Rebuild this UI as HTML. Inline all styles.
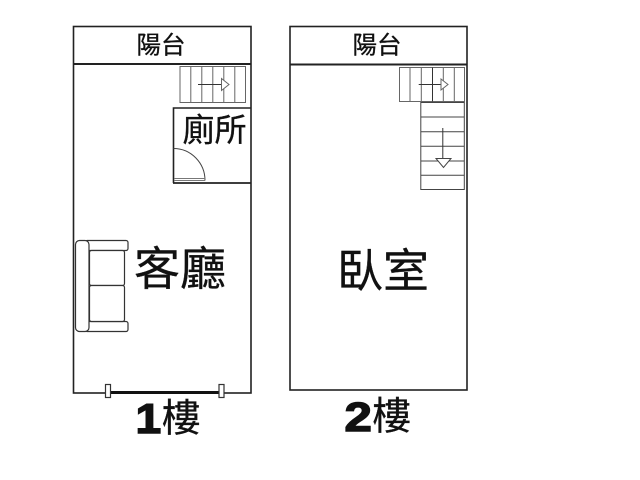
<!DOCTYPE html>
<html><head><meta charset="utf-8">
<style>html,body{margin:0;padding:0;background:#fff;width:640px;height:480px;overflow:hidden}svg{display:block}
text{font-family:"Liberation Sans","Noto Sans CJK TC",sans-serif;fill:#111;stroke:#111;stroke-width:.3}</style></head>
<body>
<svg width="640" height="480" viewBox="0 0 640 480" xmlns="http://www.w3.org/2000/svg">
<rect width="640" height="480" fill="#fff"/>
<g fill="none" stroke="#222" stroke-width="1.6">
<rect x="73.5" y="26.5" width="177.5" height="366.5"/>
<line x1="73" y1="64" x2="251" y2="64" stroke-width="2"/>
<rect x="290" y="26.5" width="177" height="363.5"/>
<line x1="290" y1="64.5" x2="467" y2="64.5" stroke-width="2"/>
<polyline points="173.5,183 173.5,108 251,108" stroke-width="1.6"/>
<line x1="173" y1="183" x2="251" y2="183" stroke-width="1.8"/>
</g>
<g fill="none" stroke="#666" stroke-width="1">
<rect x="180" y="66.5" width="65.5" height="36"/>
<path d="M190.8 66.5V102.5M201.8 66.5V102.5M212.8 66.5V102.5M223.8 66.5V102.5M234.8 66.5V102.5"/>
<path d="M198 84.5H221" stroke="#333"/>
<path d="M221.5 78.5L229 84.5L221.5 90.5Z" fill="#fff"/>
<path d="M173.5 148.5A31.5 32 0 0 1 205 180.5" stroke="#444"/>
<path d="M174 178.5H205M174 180.5H205" stroke="#777"/>
<rect x="399.5" y="67.5" width="65" height="34"/>
<path d="M410 67.5V101.5M421.3 67.5V101.5M443.3 67.5V101.5M454.3 67.5V101.5"/>
<path d="M432.5 67.5V101.5" stroke="#333"/>
<path d="M418.7 84.5H441" stroke="#333"/>
<path d="M441 79L448 84.5L441 90Z" fill="#fff"/>
</g>
<g fill="none" stroke="#444" stroke-width="1">
<rect x="420.8" y="102.5" width="43.5" height="87"/>
<path d="M420.8 117H464.3M420.8 131.7H464.3M420.8 146.3H464.3M420.8 161H464.3M420.8 175.3H464.3"/>
<path d="M442.8 128V158" stroke="#333"/>
<path d="M436 158.5H451L443.5 167.5Z" fill="#fff"/>
</g>
<g fill="#fff" stroke="#333" stroke-width="1.2">
<rect x="85" y="240.5" width="43" height="10" rx="2"/>
<rect x="85" y="321.5" width="43" height="10" rx="2"/>
<rect x="89.5" y="250.5" width="35" height="35" rx="2"/>
<rect x="89.5" y="285.5" width="35" height="36" rx="2"/>
<rect x="75.5" y="240.5" width="13.5" height="91" rx="4"/>
</g>
<line x1="108" y1="392.5" x2="221" y2="392.5" stroke="#111" stroke-width="3"/>
<rect x="105.5" y="384.5" width="5" height="13" fill="#fff" stroke="#333" stroke-width="1.2"/>
<rect x="219" y="384.5" width="5" height="13" fill="#fff" stroke="#333" stroke-width="1.2"/>
<text x="136.5" y="53.5" font-size="24.5">陽台</text>
<text x="352.5" y="53.5" font-size="24.5">陽台</text>
<text x="182.5" y="141" font-size="32">廁所</text>
<text x="134" y="285" font-size="46">客廳</text>
<text x="337" y="287" font-size="46">臥室</text>
<text transform="translate(135.5 433) scale(1.1 1)" font-size="42" font-weight="bold" style="stroke-width:1.4">1</text>
<text x="162" y="431.5" font-size="38.5">樓</text>
<text transform="translate(344.5 431) scale(1.2 1)" font-size="41" font-weight="bold" style="stroke-width:1.4">2</text>
<text x="372.5" y="429.5" font-size="38.5">樓</text>
</svg>
</body></html>
